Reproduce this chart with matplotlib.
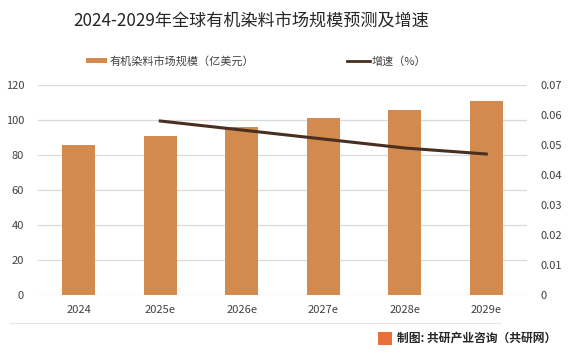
import matplotlib
matplotlib.use("Agg")
import matplotlib.pyplot as plt
from matplotlib.patches import Rectangle
from matplotlib.lines import Line2D

plt.rcParams['font.family'] = ['Noto Sans CJK SC', 'DejaVu Sans']

categories = ["2024", "2025e", "2026e", "2027e", "2028e", "2029e"]
market_size = [85.8, 90.7, 96.1, 100.9, 105.8, 110.8]
growth_cats = ["2025e", "2026e", "2027e", "2028e", "2029e"]
growth_rate = [0.058, 0.055, 0.052, 0.049, 0.047]
left_ticks = [0, 20, 40, 60, 80, 100, 120]
right_ticks = [0, 0.01, 0.02, 0.03, 0.04, 0.05, 0.06, 0.07]
right_tick_labels = ["0", "0.01", "0.02", "0.03", "0.04", "0.05", "0.06", "0.07"]

title = "2024-2029年全球有机染料市场规模预测及增速"
bar_label = "有机染料市场规模（亿美元）"
line_label = "增速（%）"
source = "制图: 共研产业咨询（共研网）"

W, H = 570, 355
fig = plt.figure(figsize=(W / 100, H / 100), dpi=100)
fig.patch.set_facecolor("white")

ax = fig.add_axes([38 / W, 1 - 295 / H, (527 - 38) / W, (295 - 85) / H])
x = list(range(len(categories)))
bar_color = "#D38A4E"
line_color = "#4A2E1F"
ax.bar(x, market_size, width=0.4, color=bar_color, zorder=2)
ax.set_xlim(-0.5, len(categories) - 0.5)
ax.set_ylim(0, 120)
ax.set_yticks(left_ticks)
ax.set_xticks(x)
ax.set_xticklabels(categories)
ax.grid(axis="y", color="#D9D9D9", linewidth=0.9, zorder=0)
for s in ax.spines.values():
    s.set_visible(False)
ax.tick_params(axis="both", length=0, labelsize=8, colors="#404040")
ax.tick_params(axis="y", pad=10)
ax.tick_params(axis="x", pad=7)

ax2 = ax.twinx()
gx = [categories.index(c) for c in growth_cats]
ax2.plot(gx, growth_rate, color=line_color, linewidth=2.2, zorder=3)
ax2.set_ylim(0, 0.07)
ax2.set_yticks(right_ticks)
ax2.set_yticklabels(right_tick_labels)
for s in ax2.spines.values():
    s.set_visible(False)
ax2.tick_params(axis="y", length=0, labelsize=8, colors="#404040", pad=10)

fig.text(251 / W, 1 - 22 / H, title, ha="center", va="center", fontsize=12.3, color="#262626")

# legend
fig.patches.append(Rectangle((86 / W, 1 - 63 / H), 21 / W, 5 / H, transform=fig.transFigure,
                             facecolor=bar_color, edgecolor="none"))
fig.text(110 / W, 1 - 61 / H, bar_label, ha="left", va="center", fontsize=8, color="#404040")
fig.lines.append(Line2D([347 / W, 370 / W], [1 - 61 / H, 1 - 61 / H], transform=fig.transFigure,
                        color=line_color, linewidth=2.0))
fig.text(372 / W, 1 - 61 / H, line_label, ha="left", va="center", fontsize=8, color="#404040")

# bottom border line
fig.lines.append(Line2D([10 / W, 500 / W], [1 - 323 / H, 1 - 323 / H], transform=fig.transFigure,
                        color="#E6E6E6", linewidth=0.8))

# source
fig.patches.append(Rectangle((378 / W, 1 - 345 / H), 14 / W, 13 / H, transform=fig.transFigure,
                             facecolor="#E8703A", edgecolor="none"))
fig.text(397 / W, 1 - 338 / H, source, ha="left", va="center", fontsize=8.5,
         fontweight="bold", color="#262626")

fig.savefig("out.png", dpi=100, facecolor="white")
